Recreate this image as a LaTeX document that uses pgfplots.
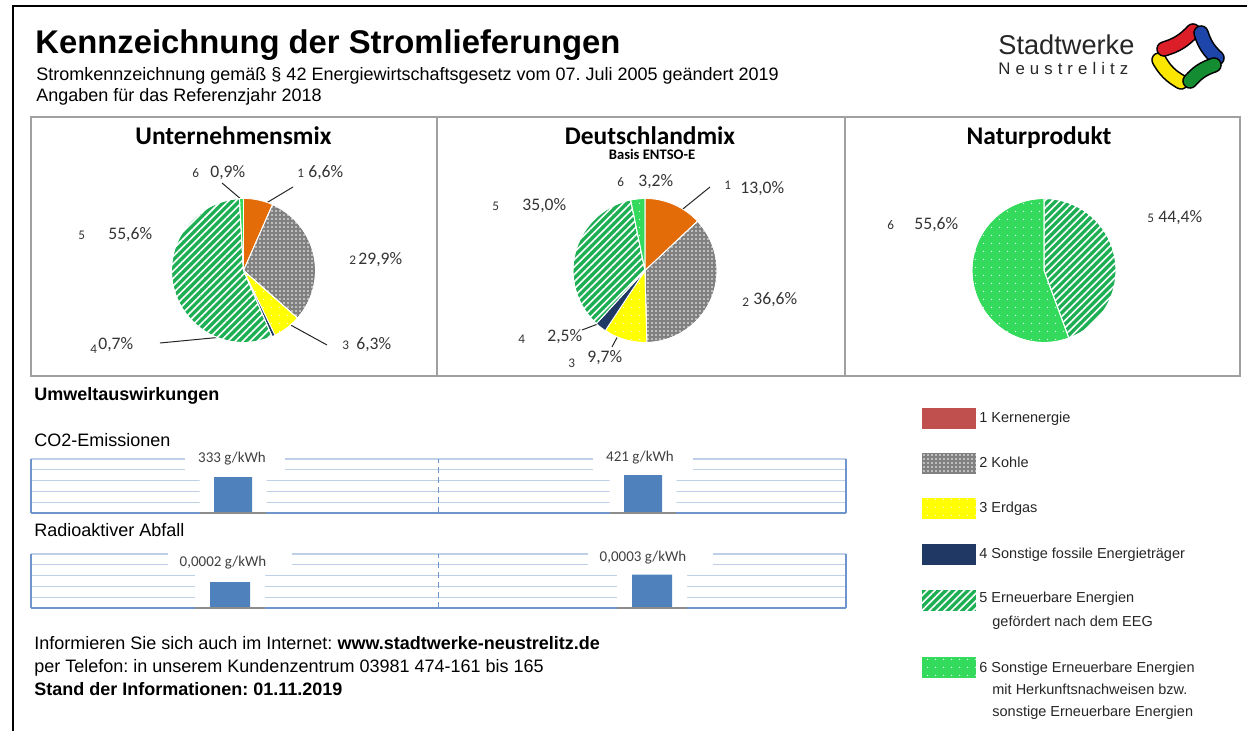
\documentclass[border=0pt]{standalone}
\usepackage{fontspec}
\setmainfont{Liberation Sans}
\newfontfamily\calibri{Carlito}
\newfontfamily\spaced[LetterSpace=30]{Liberation Sans}
\usepackage{pgfplots}
\pgfplotsset{compat=1.18}
\usetikzlibrary{patterns.meta}
\frenchspacing

\definecolor{c1}{RGB}{227,108,9}
\definecolor{c2}{RGB}{128,128,128}
\definecolor{c3}{RGB}{255,255,0}
\definecolor{c4}{RGB}{31,56,100}
\definecolor{c5}{RGB}{30,175,85}
\definecolor{c6}{RGB}{52,218,92}
\definecolor{leg1}{RGB}{192,80,77}
\definecolor{barblue}{RGB}{79,129,189}
\definecolor{gridc}{RGB}{190,208,232}
\definecolor{axblue}{RGB}{110,150,205}
\definecolor{boxgray}{RGB}{160,160,160}
\definecolor{lred}{RGB}{220,30,40}
\definecolor{lblue}{RGB}{30,70,170}
\definecolor{lgreen}{RGB}{20,140,50}
\definecolor{lyellow}{RGB}{250,230,0}

\newcommand{\fs}[1]{\fontsize{#1}{#1}\selectfont}

\tikzset{
  s1/.style={fill=c1},
  s2/.style={fill=c2, postaction={pattern={Dots[distance=2pt,radius=0.45pt]}, pattern color=white}},
  s3/.style={fill=c3, postaction={pattern={Dots[distance=4pt,radius=0.35pt]}, pattern color=white}},
  s4/.style={fill=c4},
  s5/.style={fill=c5, postaction={pattern={Lines[angle=45,distance=2.6pt,line width=0.8pt]}, pattern color=white}},
  s6/.style={fill=c6, postaction={pattern={Dots[distance=4pt,radius=0.35pt]}, pattern color=white}},
}

% start (percent), value (percent), style
\newcommand{\pieslice}[3]{%
  \addplot[#3, draw=white, line width=0.4pt, domain={90-3.6*(#1+#2)}:{90-3.6*(#1)}, samples=90, variable=\t]
    ({cos(\t)},{sin(\t)}) -- (axis cs:0,0) -- cycle;}

\pgfplotsset{
  pieax/.style={anchor=center, scale only axis, width=72pt, height=72pt,
    xmin=-1, xmax=1, ymin=-1, ymax=1, hide axis, clip=false},
  barax/.style={anchor=south west, scale only axis, width=407.5pt, height=27pt,
    xmin=0, xmax=815, ymin=0, xtick=\empty, yticklabels={}, scaled y ticks=false,
    ymajorgrids, grid style={gridc, line width=0.6pt},
    axis line style={draw=none}, major tick length=0pt, tick style={draw=none}, clip=false},
}

\begin{document}
\begin{tikzpicture}
\begin{scope}[x=0.5pt,y=-0.5pt]
  \path[use as bounding box] (0,0) rectangle (1247,731);
  % outer frame
  \draw[line width=1pt] (13,731) -- (13,6) -- (1247,6);
  % header
  \node[anchor=base west, inner sep=0, font=\fs{16.4}\bfseries] at (35,54) {Kennzeichnung der Stromlieferungen};
  \node[anchor=base west, inner sep=0, font=\fs{9}] at (36,81) {Stromkennzeichnung gemäß § 42 Energiewirtschaftsgesetz vom 07. Juli 2005 geändert 2019};
  \node[anchor=base west, inner sep=0, font=\fs{9}] at (36,102) {Angaben für das Referenzjahr 2018};
  % logo
  \node[anchor=base west, inner sep=0, font=\fs{13.6}, text=black!85] at (998,55) {Stadtwerke};
  \node[anchor=base west, inner sep=0, font=\spaced\fs{8.4}, text=black!85] at (998,75) {Neustrelitz};
  \draw[line width=7.8pt, line cap=round] (1159,60) to[bend right=15] (1181,82);
  \draw[line width=6.2pt, line cap=round, lyellow] (1159,60) to[bend right=15] (1181,82);
  \draw[line width=7.8pt, line cap=round] (1164,49) to[bend right=15] (1193,31);
  \draw[line width=6.2pt, line cap=round, lred] (1164,49) to[bend right=15] (1193,31);
  \draw[line width=7.8pt, line cap=round] (1201,33) to[bend right=15] (1217,58);
  \draw[line width=6.2pt, line cap=round, lblue] (1201,33) to[bend right=15] (1217,58);
  \draw[line width=7.8pt, line cap=round] (1214,65) to[bend right=15] (1190,81);
  \draw[line width=6.2pt, line cap=round, lgreen] (1214,65) to[bend right=15] (1190,81);
  % panel box
  \draw[boxgray, line width=0.6pt] (31,117) rectangle (1240,376);
  \draw[boxgray, line width=0.6pt] (437,117) -- (437,376) (845,117) -- (845,376);
  % pie titles
  \node[anchor=base, inner sep=0, font=\calibri\bfseries\fs{12.7}] at (233.5,145) {Unternehmensmix};
  \node[anchor=base, inner sep=0, font=\calibri\bfseries\fs{12.7}] at (650,145) {Deutschlandmix};
  \node[anchor=base, inner sep=0, font=\calibri\bfseries\fs{7.3}] at (652,160) {Basis ENTSO-E};
  \node[anchor=base, inner sep=0, font=\calibri\bfseries\fs{12.7}] at (1039,145) {Naturprodukt};
  % pie centres
  \coordinate (P1) at (243.5,270.5);
  \coordinate (P2) at (645,270.5);
  \coordinate (P3) at (1044,270.5);
  % pie labels
  \tikzset{num/.style={anchor=base west, inner sep=0, font=\calibri\fs{6.6}, text=black!80},
           val/.style={anchor=base west, inner sep=0, font=\calibri\fs{8.8}, text=black!80},
           lead/.style={draw=black!85, line width=0.5pt}}
  \node[num] at (192,178) {6}; \node[val] at (210,178) {0,9\%};
  \node[num] at (297,178) {1}; \node[val] at (308,178) {6,6\%};
  \node[num] at (349,265) {2}; \node[val] at (358,265) {29,9\%};
  \node[num] at (342,350) {3}; \node[val] at (356,350) {6,3\%};
  \node[num] at (90,354) {4};  \node[val] at (98,350) {0,7\%};
  \node[num] at (78,240) {5};  \node[val] at (108,240) {55,6\%};
  \draw[lead] (222,183) -- (242,200);
  \draw[lead] (293,187) -- (263,205);
  \draw[lead] (287,323) -- (327,345);
  \draw[lead] (160,343) -- (275,332);
  \node[num] at (617,187) {6}; \node[val] at (638,187) {3,2\%};
  \node[num] at (724,190) {1}; \node[val] at (740,194) {13,0\%};
  \node[num] at (492,211) {5}; \node[val] at (522,211) {35,0\%};
  \node[num] at (742,307) {2}; \node[val] at (753,305) {36,6\%};
  \node[num] at (518,344) {4}; \node[val] at (547,342) {2,5\%};
  \node[num] at (568,368) {3}; \node[val] at (587,363) {9,7\%};
  \draw[lead] (642,200) -- (639,215);
  \draw[lead] (710,187) -- (673,217);
  \draw[lead] (582,330) -- (603,322);
  \draw[lead] (612,347) -- (630,313);
  \node[num] at (887,230) {6}; \node[val] at (914,230) {55,6\%};
  \node[num] at (1147,223) {5}; \node[val] at (1158,223) {44,4\%};
  % environment section
  \node[anchor=base west, inner sep=0, font=\fs{9}\bfseries] at (34,401) {Umweltauswirkungen};
  \node[anchor=base west, inner sep=0, font=\fs{9}] at (34,447) {CO2-Emissionen};
  \node[anchor=base west, inner sep=0, font=\fs{9}] at (34,537) {Radioaktiver Abfall};
  \coordinate (B1) at (31,513);
  \coordinate (B2) at (31,608);
  % legend
  \tikzset{lt/.style={anchor=base west, inner sep=0, font=\fs{7.25}, text=black!85}}
  \fill[leg1] (922,408) rectangle (976,429);
  \node[lt] at (979,423) {1 Kernenergie};
  \fill[s2] (922,453) rectangle (976,474);
  \node[lt] at (979,468) {2 Kohle};
  \fill[s3] (922,498) rectangle (976,519);
  \node[lt] at (979,513) {3 Erdgas};
  \fill[s4] (922,544) rectangle (976,565);
  \node[lt] at (979,559) {4 Sonstige fossile Energieträger};
  \fill[s5] (922,590) rectangle (976,611);
  \node[lt] at (979,603) {5 Erneuerbare Energien};
  \node[lt] at (992,626) {gefördert nach dem EEG};
  \fill[s6] (922,657) rectangle (976,678);
  \node[lt] at (979,672) {6 Sonstige Erneuerbare Energien};
  \node[lt] at (992,694) {mit Herkunftsnachweisen bzw.};
  \node[lt] at (992,716) {sonstige Erneuerbare Energien};
  % footer
  \node[anchor=base west, inner sep=0, font=\fs{9}] at (34,649) {Informieren Sie sich auch im Internet: \textbf{www.stadtwerke-neustrelitz.de}};
  \node[anchor=base west, inner sep=0, font=\fs{9}] at (34,672) {per Telefon: in unserem Kundenzentrum 03981 474-161 bis 165};
  \node[anchor=base west, inner sep=0, font=\fs{9}\bfseries] at (34,695) {Stand der Informationen: 01.11.2019};
\end{scope}

% ---- pies ----
\begin{axis}[pieax, at={(P1)}]
  \pieslice{0}{6.6}{s1}
  \pieslice{6.6}{29.9}{s2}
  \pieslice{36.5}{6.3}{s3}
  \pieslice{42.8}{0.7}{s4}
  \pieslice{43.5}{55.6}{s5}
  \pieslice{99.1}{0.9}{s6}
\end{axis}
\begin{axis}[pieax, at={(P2)}]
  \pieslice{0}{13.0}{s1}
  \pieslice{13.0}{36.6}{s2}
  \pieslice{49.6}{9.7}{s3}
  \pieslice{59.3}{2.5}{s4}
  \pieslice{61.8}{35.0}{s5}
  \pieslice{96.8}{3.2}{s6}
\end{axis}
\begin{axis}[pieax, at={(P3)}]
  \pieslice{0}{44.4}{s5}
  \pieslice{44.4}{55.6}{s6}
\end{axis}

% ---- CO2 bars ----
\begin{axis}[barax, at={(B1)}, ymax=500, ytick={0,100,200,300,400,500}]
  \addplot[ybar, bar width=67, bar shift=0pt, fill=white, draw=none] coordinates {(202,500) (612,500)};
  \addplot[ybar, bar width=38, bar shift=0pt, fill=barblue, draw=none] coordinates {(202,333) (612,421)};
  \draw[axblue, line width=0.6pt] (rel axis cs:0,0) -- (rel axis cs:0,1);
  \draw[axblue, line width=0.6pt] (rel axis cs:1,0) -- (rel axis cs:1,1);
  \draw[axblue, line width=0.6pt, dash pattern=on 3pt off 2pt] (rel axis cs:0.5,0) -- (rel axis cs:0.5,1);
  \draw[axblue, line width=0.6pt] (rel axis cs:0,0) -- (rel axis cs:1,0);
  \draw[black!45, line width=0.6pt] (axis cs:169,0) -- (axis cs:235,0) (axis cs:579,0) -- (axis cs:645,0);
  \node[fill=white, minimum width=50pt, minimum height=11.5pt, inner sep=0] at (axis cs:204,458) {};
  \node[fill=white, minimum width=50pt, minimum height=11.5pt, inner sep=0] at (axis cs:612,458) {};
  \node[anchor=base, inner sep=0, font=\calibri\fs{7.5}, text=black!75] at (axis cs:201,500) [yshift=-2pt] {333 g/kWh};
  \node[anchor=base, inner sep=0, font=\calibri\fs{7.5}, text=black!75] at (axis cs:609,500) [yshift=-1.5pt] {421 g/kWh};
\end{axis}

% ---- radioactive waste bars ----
\begin{axis}[barax, at={(B2)}, ymax=0.0005, ytick={0,0.0001,0.0002,0.0003,0.0004,0.0005}]
  \addplot[ybar, bar width=70, bar shift=0pt, fill=white, draw=none] coordinates {(199,0.0005) (621,0.0005)};
  \addplot[ybar, bar width=40, bar shift=0pt, fill=barblue, draw=none] coordinates {(199,0.00024) (621,0.00031)};
  \draw[axblue, line width=0.6pt] (rel axis cs:0,0) -- (rel axis cs:0,1);
  \draw[axblue, line width=0.6pt] (rel axis cs:1,0) -- (rel axis cs:1,1);
  \draw[axblue, line width=0.6pt, dash pattern=on 3pt off 2pt] (rel axis cs:0.5,0) -- (rel axis cs:0.5,1);
  \draw[axblue, line width=0.6pt] (rel axis cs:0,0) -- (rel axis cs:1,0);
  \draw[black!45, line width=0.6pt] (axis cs:164,0) -- (axis cs:234,0) (axis cs:586,0) -- (axis cs:656,0);
  \node[fill=white, minimum width=62pt, minimum height=11.5pt, inner sep=0] at (axis cs:199,0.00045) {};
  \node[fill=white, minimum width=62.5pt, minimum height=11.5pt, inner sep=0] at (axis cs:619,0.00048) {};
  \node[anchor=base, inner sep=0, font=\calibri\fs{7.5}, text=black!75] at (axis cs:192,0.0005) [yshift=-6.5pt] {0,0002 g/kWh};
  \node[anchor=base, inner sep=0, font=\calibri\fs{7.5}, text=black!75] at (axis cs:612,0.0005) [yshift=-4pt] {0,0003 g/kWh};
\end{axis}
\end{tikzpicture}
\end{document}
